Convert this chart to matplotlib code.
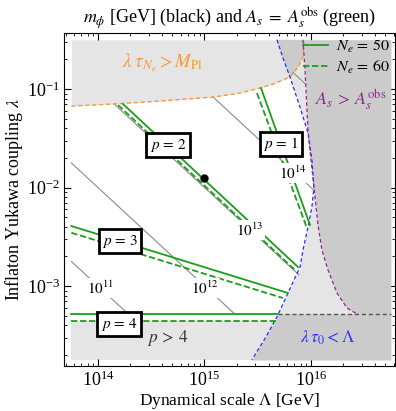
import numpy as np
import matplotlib
matplotlib.use("Agg")
import matplotlib.pyplot as plt

plt.rcParams['font.family'] = ['Liberation Serif', 'DejaVu Serif']
plt.rcParams['mathtext.fontset'] = 'stix'

# data range (log10)
logL_range = [13.75, 16.75]
loglam_range = [-3.75, -0.5]

# boundary curves, log10(Lambda) and log10(lambda)
orange_x = [13.75, 14.141, 14.582, 15.080, 15.333, 15.521, 15.643, 15.803, 15.878, 15.925, 15.934, 15.934]
orange_y = [-1.173, -1.152, -1.122, -1.081, -1.041, -0.990, -0.949, -0.878, -0.777, -0.675, -0.533, -0.5]

blue_x = [15.681, 15.737, 15.803, 15.897, 15.972, 16.009, 16.028, 16.009, 15.972, 15.925, 15.897, 15.784, 15.690, 15.577, 15.445]
blue_y = [-0.5, -0.685, -0.878, -1.183, -1.447, -1.721, -1.995, -2.198, -2.401, -2.635, -2.807, -3.071, -3.294, -3.518, -3.75]

purple_x = [15.925, 15.944, 15.972, 16.000, 16.038, 16.066, 16.103, 16.160, 16.244, 16.338, 16.432]
purple_y = [-0.5, -0.807, -1.416, -1.721, -2.096, -2.381, -2.635, -2.838, -3.071, -3.223, -3.284]

p4_line = -3.284      # black dashed line / p = 4, N_e = 50
p4_region_top = -3.36  # top of the p > 4 region

# m_phi contours (m_phi = lambda * Lambda), start / end in log10(Lambda)
contour_logm = [11, 12, 13, 14, 15]
contour_start = [13.75, 13.75, 14.15, 15.08, 15.83]
contour_end = [14.284, 15.284, 15.887, 16.02, 15.953]
contour_labels = ['$10^{11}$', '$10^{12}$', '$10^{13}$', '$10^{14}$']
contour_label_pos = [(14.02, -3.02), (15.005, -3.02), (15.427, -2.431), (15.831, -1.853)]

# A_s = A_s^obs lines: (log L start, log lam start, log L end, log lam end)
p_values = [1, 2, 3, 4]
ne50_lines = [(15.531, -0.990, 15.991, -2.381),
              (14.235, -1.152, 15.878, -2.807),
              (13.75, -2.391, 15.784, -3.071),
              (13.75, -3.284, 15.690, -3.284)]
ne60_lines = [(15.493, -1.041, 15.962, -2.411),
              (14.188, -1.162, 15.850, -2.838),
              (13.75, -2.459, 15.737, -3.122),
              (13.75, -3.355, 15.670, -3.355)]
p_label_pos = [(15.718, -1.558), (14.657, -1.569), (14.207, -2.543), (14.197, -3.386)]

bench_L = 1e15
bench_lam = 0.0125

light = '#e5e5e5'
dark = '#cbcbcb'
green = '#1a9e1a'
orange = '#f59a35'
blue = '#2a2aff'
purple = '#8e2a8e'

fig = plt.figure(figsize=(3.96, 4.11), dpi=100)
ax = fig.add_axes([64 / 396, 1 - 366 / 411, 331 / 396, 333 / 411])

Lmin, Lmax = 10 ** logL_range[0], 10 ** logL_range[1]
lmin, lmax = 10 ** loglam_range[0], 10 ** loglam_range[1]

ox, oy = 10 ** np.array(orange_x), 10 ** np.array(orange_y)
bx, by = 10 ** np.array(blue_x), 10 ** np.array(blue_y)
px_, py_ = 10 ** np.array(purple_x), 10 ** np.array(purple_y)

# shaded regions
ax.fill_between(ox, oy, lmax, color=light, lw=0, zorder=1)
ax.fill_betweenx(by, bx, Lmax, color=light, lw=0, zorder=1)
ax.fill_between([Lmin, Lmax], lmin, 10 ** p4_region_top, color=light, lw=0, zorder=1)
ax.fill_betweenx(py_, px_, Lmax, color=dark, lw=0, zorder=2)

# dark part right of blue below the p = 4 line
by_l = np.array(blue_y)
bx_l = np.array(blue_x)
x_cross = np.interp(p4_line, by_l[::-1], bx_l[::-1])
sel = by_l < p4_line
yy = np.concatenate([[p4_line], by_l[sel]])
xx = np.concatenate([[x_cross], bx_l[sel]])
ax.fill_betweenx(10 ** yy, 10 ** xx, Lmax, color=dark, lw=0, zorder=2)

# dark corner: right of blue and above orange
oxl, oyl = np.array(orange_x), np.array(orange_y)
selb = by_l >= -0.878
selo = oxl > 15.803
cx = np.concatenate([bx_l[selb], oxl[selo]])
cy = np.concatenate([by_l[selb], oyl[selo]])
ax.fill(10 ** cx, 10 ** cy, color=dark, lw=0, zorder=2)

# boundary curves
ax.plot(ox, oy, color=orange, lw=1.0, ls=(0, (3, 2)), zorder=4)
ax.plot(bx, by, color=blue, lw=0.9, ls=(0, (3, 2)), zorder=4)
ax.plot(px_, py_, color=purple, lw=0.9, ls=(0, (3, 2)), zorder=4)
ax.plot([10 ** x_cross, Lmax], [10 ** p4_line] * 2, color='#555555', lw=1.0, ls=(0, (3, 2)), zorder=4)

# m_phi contours
for m, s, e in zip(contour_logm, contour_start, contour_end):
    L = 10 ** np.array([s, e])
    ax.plot(L, 10 ** m / L, color='#8a8a8a', lw=0.8, zorder=3)

# A_s = A_s^obs lines
for a, b in zip(ne50_lines, ne60_lines):
    ax.plot(10 ** np.array([a[0], a[2]]), 10 ** np.array([a[1], a[3]]), color=green, lw=1.3, zorder=5)
    ax.plot(10 ** np.array([b[0], b[2]]), 10 ** np.array([b[1], b[3]]), color=green, lw=1.3,
            ls=(0, (3.5, 1.5)), zorder=5)

ax.plot(bench_L, bench_lam, 'o', color='black', ms=5, zorder=7)

# labels
for lab, (lx, ly) in zip(contour_labels, contour_label_pos):
    ax.text(10 ** lx, 10 ** ly, lab, fontsize=11, ha='center', va='center', zorder=6,
            bbox=dict(boxstyle='square,pad=0.1', fc='white', ec='none'))

for p, (lx, ly) in zip(p_values, p_label_pos):
    ax.text(10 ** lx, 10 ** ly, r'$p\,=\,%d$' % p, fontsize=11, ha='center', va='center', zorder=8,
            bbox=dict(boxstyle='square,pad=0.22', fc='white', ec='black', lw=2))

ax.text(10 ** 14.657, 10 ** -3.528, r'$p\,>\,4$', fontsize=12.5, ha='center', va='center', color='#333333', zorder=6)
ax.text(10 ** 16.16, 10 ** -3.528, r'$\lambda\,\tau_0 < \Lambda$', fontsize=12.5, ha='center', va='center',
        color=blue, zorder=6)
ax.text(10 ** 16.376, 10 ** -1.112, r'$A_s\,>\,A_s^{\rm obs}$', fontsize=13, ha='center', va='center',
        color=purple, zorder=6)
ax.text(10 ** 14.61, 10 ** -0.736, r'$\lambda\;\tau_{N_e} > M_{\rm Pl}$', fontsize=13.5, ha='center', va='center',
        color=orange, zorder=6)

# legend
h1, = ax.plot([], [], color=green, lw=1.3)
h2, = ax.plot([], [], color=green, lw=1.3, ls=(0, (3.5, 1.5)))
ax.legend([h1, h2], [r'$N_e\,=\,50$', r'$N_e\,=\,60$'], loc='upper right', frameon=False,
          fontsize=11.5, handlelength=1.6, handletextpad=0.5, borderaxespad=0.0, borderpad=0.3,
          labelspacing=0.25)

ax.set_xscale('log')
ax.set_yscale('log')
ax.set_xlim(10 ** 13.681, 10 ** 16.789)
ax.set_ylim(10 ** -3.812, 10 ** -0.431)
ax.tick_params(which='both', direction='in', top=True, right=True, labelsize=13, pad=3)
ax.tick_params(which='major', length=5)
ax.tick_params(which='minor', length=2.5)

ax.set_xlabel(r'Dynamical scale $\Lambda$ [GeV]', fontsize=12.5, labelpad=1)
ax.set_ylabel(r'Inflaton Yukawa coupling $\lambda$', fontsize=13, labelpad=1)
ax.set_title(r'$m_\phi$ [GeV] (black) and $A_s\;=\;A_s^{\rm obs}$ (green)', fontsize=13, pad=7)

fig.savefig('out.png', dpi=100)
